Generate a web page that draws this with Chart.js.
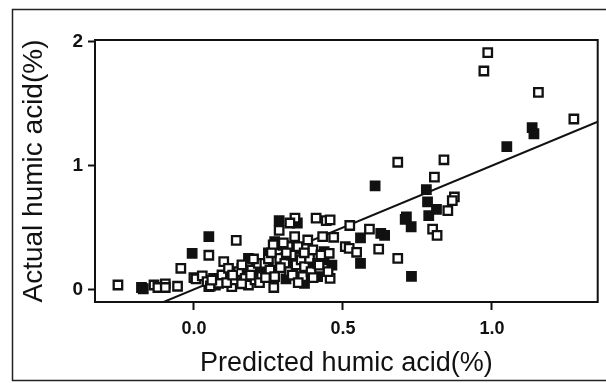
<!DOCTYPE html>
<html>
<head>
<meta charset="utf-8">
<script src="https://cdn.jsdelivr.net/npm/chart.js@4/dist/chart.umd.min.js"></script>
<style>
  body { margin: 0; background: #fff; }
  #wrap { width: 606px; height: 383px; }
</style>
</head>
<body>
<div id="wrap"><canvas id="hcChart" width="606" height="383"></canvas></div>
<script>
const openPredicted = [-0.255, -0.134, -0.121, -0.096, -0.096, -0.055, -0.044, 0.0, 0.05, 0.142, 0.268,
  0.684, 0.839, 0.807, 0.874, 0.867, 0.852, 0.801, 0.816, 0.684, 0.62, 0.589, 0.523, 0.469, 0.41, 0.444,
  0.457, 0.339, 0.322, 0.286, 0.973, 0.986, 1.156, 1.275, 0.457, 0.45, 0.508, 0.521, 0.546,
  0.007, 0.028, 0.044, 0.055, 0.066, 0.083, 0.094, 0.1, 0.116, 0.127, 0.138, 0.15, 0.161, 0.172, 0.183,
  0.194, 0.205, 0.216, 0.227, 0.238, 0.255, 0.266, 0.271, 0.288, 0.305, 0.316, 0.321, 0.327, 0.338,
  0.343, 0.349, 0.36, 0.365, 0.371, 0.382, 0.388, 0.393, 0.399, 0.415, 0.426, 0.432, 0.454,
  0.06, 0.11, 0.13, 0.16, 0.19, 0.22, 0.24, 0.25, 0.29, 0.31, 0.33, 0.35, 0.37, 0.3, 0.26, 0.2, 0.4, 0.42];
const openActual = [0.04, 0.04, 0.02, 0.05, 0.02, 0.03, 0.175, 0.1, 0.28, 0.40, 0.02,
  1.03, 1.05, 0.91, 0.75, 0.72, 0.64, 0.49, 0.44, 0.255, 0.33, 0.49, 0.52, 0.425, 0.58, 0.56,
  0.565, 0.58, 0.54, 0.48, 1.766, 1.914, 1.594, 1.379, 0.094, 0.148, 0.35, 0.336, 0.304,
  0.09, 0.113, 0.067, 0.032, 0.094, 0.054, 0.121, 0.228, 0.175, 0.027, 0.081, 0.148, 0.202, 0.094, 0.04,
  0.161, 0.081, 0.215, 0.107, 0.215, 0.161, 0.363, 0.107, 0.255, 0.215, 0.349, 0.148, 0.282, 0.43,
  0.202, 0.349, 0.242, 0.107, 0.188, 0.403, 0.255, 0.148, 0.323, 0.215, 0.282, 0.43, 0.296,
  0.08, 0.06, 0.12, 0.05, 0.12, 0.06, 0.1, 0.25, 0.18, 0.3, 0.12, 0.06, 0.3, 0.38, 0.3, 0.25, 0.1, 0.2];

const filledPredicted = [-0.176, -0.17, 0.05, -0.006, 0.608, 0.73, 0.713, 0.709, 0.729, 0.78, 0.784, 0.788,
  0.814, 1.05, 1.135, 1.141, 0.559, 0.559, 0.627, 0.64, 0.286, 0.347, 0.367, 0.309, 0.463, 0.405, 0.437,
  0.05, 0.072, 0.089, 0.116, 0.15, 0.161, 0.183, 0.194, 0.221, 0.249, 0.271, 0.316, 0.332, 0.371, 0.415,
  0.437, 0.3, 0.34, 0.25, 0.21];
const filledActual = [0.02, 0.01, 0.43, 0.295, 0.84, 0.11, 0.59, 0.57, 0.51, 0.81, 0.71, 0.6,
  0.65, 1.156, 1.31, 1.26, 0.42, 0.215, 0.457, 0.44, 0.56, 0.54, 0.07, 0.09, 0.2, 0.215, 0.31,
  0.027, 0.04, 0.081, 0.107, 0.081, 0.175, 0.255, 0.107, 0.134, 0.175, 0.39, 0.202, 0.121, 0.054, 0.107,
  0.242, 0.36, 0.33, 0.3, 0.2];

// recta de ajuste
const fitPredicted = [-0.11, 1.36];
const fitActual = [-0.105, 1.362];

const xTicks = [0, 0.5, 1.0];
const yTicks = [0, 1, 2];

const toPoints = (xs, ys) => xs.map((x, i) => ({ x: x, y: ys[i] }));

// marco del area y marco exterior
const framePlugin = {
  id: 'frames',
  afterDraw(chart) {
    const c = chart.ctx;
    const a = chart.chartArea;
    c.save();
    c.strokeStyle = '#111';
    c.lineWidth = 2;
    c.strokeRect(a.left, a.top, a.right - a.left, a.bottom - a.top);
    c.lineWidth = 1.5;
    c.strokeStyle = '#222';
    c.beginPath();
    c.moveTo(610, 9.5);
    c.lineTo(12.5, 9.5);
    c.lineTo(12.5, 380.5);
    c.lineTo(610, 380.5);
    c.stroke();
    c.restore();
  }
};

const ctx = document.getElementById('hcChart').getContext('2d');
const hcChart = new Chart(ctx, {
  type: 'scatter',
  data: {
    datasets: [
      {
        label: 'abiertos',
        data: toPoints(openPredicted, openActual),
        pointStyle: 'rect',
        pointRadius: 6,
        pointBackgroundColor: '#fff',
        pointBorderColor: '#111',
        pointBorderWidth: 2.3,
      },
      {
        label: 'rellenos',
        data: toPoints(filledPredicted, filledActual),
        pointStyle: 'rect',
        pointRadius: 6,
        pointBackgroundColor: '#111',
        pointBorderColor: '#111',
        pointBorderWidth: 2.3,
      },
      {
        type: 'line',
        label: 'ajuste',
        data: toPoints(fitPredicted, fitActual),
        borderColor: '#111',
        borderWidth: 2,
        pointRadius: 0,
        fill: false,
      },
    ],
  },
  options: {
    responsive: false,
    animation: false,
    layout: { padding: { left: 0, right: 3, top: 40, bottom: 0 } },
    plugins: { legend: { display: false }, tooltip: { enabled: false } },
    scales: {
      x: {
        type: 'linear',
        min: -0.332,
        max: 1.355,
        afterBuildTicks: (s) => { s.ticks = xTicks.map(v => ({ value: v })); },
        afterFit: (s) => { s.height = 81; },
        border: { display: false },
        grid: { drawOnChartArea: false, drawTicks: true, tickLength: 8, tickColor: '#111', tickWidth: 2 },
        ticks: {
          color: '#111',
          padding: 8,
          maxRotation: 0,
          font: { family: '"Liberation Sans Narrow", "Liberation Sans", Arial', size: 18, weight: 'bold' },
          callback: (v) => v.toFixed(1),
        },
        title: {
          display: true,
          text: 'Predicted humic acid(%)',
          color: '#111',
          font: { family: '"Liberation Sans", Arial', size: 27 },
          padding: { top: 0, bottom: 3 },
        },
      },
      y: {
        type: 'linear',
        min: -0.097,
        max: 2.016,
        afterBuildTicks: (s) => { s.ticks = yTicks.map(v => ({ value: v })); },
        afterFit: (s) => { s.width = 95; },
        border: { display: false },
        grid: { drawOnChartArea: false, drawTicks: true, tickLength: 7, tickColor: '#111', tickWidth: 2 },
        ticks: {
          color: '#111',
          padding: 5,
          font: { family: '"Liberation Sans Narrow", "Liberation Sans", Arial', size: 19, weight: 'bold' },
          callback: (v) => String(v),
        },
        title: {
          display: true,
          text: 'Actual humic acid(%)',
          color: '#111',
          font: { family: '"Liberation Sans", Arial', size: 28 },
          padding: { top: 17, bottom: 0 },
        },
      },
    },
  },
  plugins: [framePlugin],
});
</script>
</body>
</html>
